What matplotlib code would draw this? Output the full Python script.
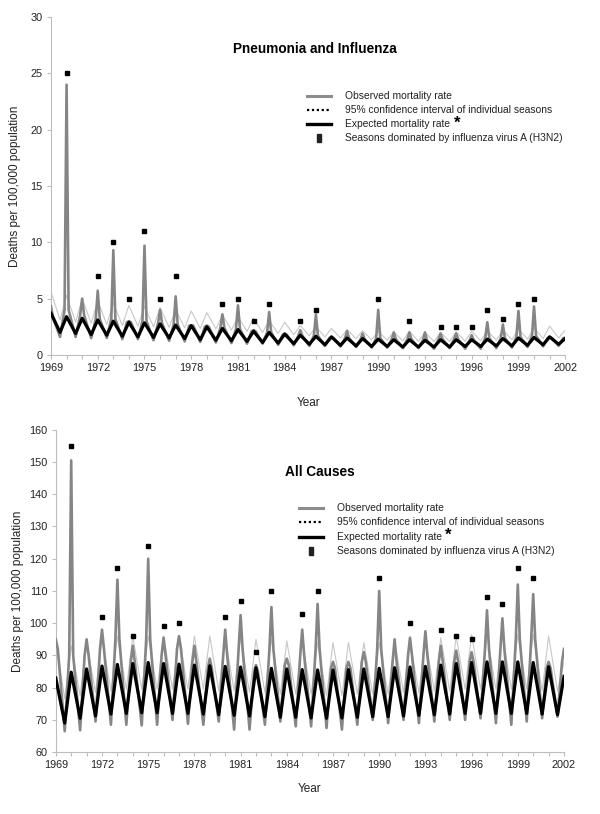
import matplotlib
matplotlib.use('Agg')
import matplotlib.pyplot as plt
from matplotlib.patches import Rectangle

plt.rcParams['font.family'] = ['Liberation Sans', 'DejaVu Sans']

# seasons: winter peak placed at the start of each year, summer trough mid-year
seasons = list(range(1969, 2003))
h3n2_seasons = [1970, 1972, 1973, 1974, 1975, 1976, 1977, 1980, 1981, 1982, 1983,
                1985, 1986, 1990, 1992, 1994, 1995, 1996, 1997, 1998, 1999, 2000]

# --- Pneumonia and influenza (deaths per 100,000) ---
pi_obs_peak = [4.3, 24.0, 5.0, 5.7, 9.3, 3.0, 9.7, 4.0, 5.2, 2.6, 2.6, 3.6, 4.4, 2.2, 3.8, 1.9, 2.2,
               3.6, 1.6, 2.1, 1.9, 4.0, 2.0, 2.0, 2.0, 1.9, 1.9, 1.75, 2.9, 2.7, 3.9, 4.3, 1.6, 1.5]
pi_obs_base = [3.3, 4.0, 3.5, 3.2, 3.2, 2.9, 3.0, 2.8, 2.7, 2.6, 2.5, 2.4, 2.3, 2.1, 2.0, 1.8, 1.7,
               1.7, 1.5, 1.5, 1.4, 1.5, 1.4, 1.4, 1.3, 1.4, 1.4, 1.3, 1.5, 1.5, 1.6, 1.7, 1.5, 1.5]
pi_obs_trough = [1.6, 1.6, 1.5, 1.5, 1.4, 1.4, 1.3, 1.25, 1.2, 1.15, 1.1, 1.05, 1.0, 1.0, 0.9, 0.85, 0.8,
                 0.8, 0.75, 0.7, 0.65, 0.65, 0.6, 0.6, 0.55, 0.6, 0.55, 0.55, 0.6, 0.65, 0.7, 0.75, 0.8]
pi_exp_peak = [3.7, 3.4, 3.25, 3.1, 3.0, 2.9, 2.85, 2.75, 2.65, 2.6, 2.5, 2.35, 2.25, 2.1, 2.0, 1.85, 1.75,
               1.65, 1.6, 1.5, 1.45, 1.4, 1.35, 1.35, 1.3, 1.35, 1.35, 1.35, 1.4, 1.45, 1.5, 1.55, 1.6, 1.45]
pi_exp_trough = [2.0, 1.9, 1.8, 1.75, 1.65, 1.6, 1.55, 1.5, 1.45, 1.35, 1.3, 1.25, 1.2, 1.1, 1.05, 1.0, 0.95,
                 0.9, 0.85, 0.8, 0.75, 0.75, 0.7, 0.7, 0.7, 0.7, 0.75, 0.75, 0.8, 0.8, 0.85, 0.9, 0.95]
pi_ci_peak = [5.6, 5.3, 5.0, 4.8, 4.6, 4.4, 4.3, 4.2, 4.0, 3.9, 3.75, 3.55, 3.4, 3.25, 3.05, 2.9, 2.6,
              2.5, 2.35, 2.25, 2.15, 2.1, 2.05, 2.1, 2.0, 2.0, 2.05, 2.1, 2.15, 2.2, 2.3, 2.4, 2.55, 2.2]
pi_ci_trough = [3.1, 2.9, 2.8, 2.7, 2.6, 2.55, 2.5, 2.45, 2.4, 2.35, 2.3, 2.2, 2.1, 2.0, 1.9, 1.8, 1.7,
                1.6, 1.5, 1.45, 1.35, 1.3, 1.25, 1.2, 1.2, 1.2, 1.2, 1.25, 1.3, 1.35, 1.4, 1.45, 1.5]
pi_h3n2_level = [25, 7, 10, 5, 11, 5, 7, 4.5, 5, 3, 4.5, 3, 4, 5, 3, 2.45, 2.45, 2.45, 4, 3.2, 4.5, 5]

# --- All causes (deaths per 100,000) ---
ac_obs_peak = [95, 150.5, 95, 98, 113.5, 93, 120, 95.5, 96, 93, 89, 98, 102.5, 87, 105, 89, 98,
               106, 88, 88, 91, 110, 95, 95.5, 97.5, 93, 91.5, 91, 104, 101.5, 112, 109, 88, 92]
ac_obs_base = [92, 90, 90, 92, 95, 88, 95, 90, 92, 88, 86, 90, 92, 85, 92, 87, 90,
               92, 86, 86, 88, 92, 88, 90, 90, 88, 88, 88, 92, 92, 95, 95, 86, 88]
ac_obs_trough = [66.5, 66.8, 69.5, 68.5, 68.5, 68.3, 68.5, 70.0, 68.8, 68.5, 69.5, 67.0, 67.0, 68.5, 69.5, 68.0, 68.0,
                 67.5, 67.0, 68.5, 70.0, 69.0, 70.0, 69.0, 69.5, 70.0, 70.0, 70.5, 69.0, 68.5, 69.5, 70.5, 71.0]
ac_exp_peak = [83.0, 84.8, 85.8, 86.7, 87.2, 87.5, 87.8, 87.5, 87.3, 87.0, 86.8, 86.6, 86.4, 86.2, 86.0, 85.8, 85.6,
               85.5, 85.5, 85.6, 85.8, 86.0, 86.2, 86.4, 86.6, 87.0, 87.5, 87.8, 88.0, 88.0, 88.0, 87.8, 86.5, 83.5]
ac_exp_trough = [69.0, 70.5, 71.2, 71.8, 72.0, 72.2, 72.2, 72.0, 72.0, 71.8, 71.6, 71.4, 71.2, 71.0, 70.8, 70.8, 70.6,
                 70.5, 70.6, 70.8, 71.0, 71.0, 71.2, 71.4, 71.6, 71.8, 72.0, 72.0, 72.0, 72.0, 72.0, 71.8, 71.6]
ac_ci_peak = [95.0, 93.0, 94.5, 95.5, 96.0, 96.0, 96.0, 96.0, 96.0, 96.0, 96.0, 95.5, 95.5, 95.0, 95.0, 94.5, 94.5,
              94.0, 94.0, 94.0, 94.0, 94.0, 94.5, 94.5, 95.0, 95.5, 96.0, 96.5, 96.5, 96.5, 96.5, 96.5, 96.0, 88.0]
ac_ci_trough = [76.5, 77.5, 78.5, 79.0, 79.5, 79.5, 79.5, 79.5, 79.5, 79.5, 79.0, 79.0, 78.5, 78.5, 78.0, 78.0, 78.0,
                77.5, 77.5, 78.0, 78.0, 78.0, 78.5, 78.5, 79.0, 79.0, 79.5, 79.5, 79.5, 79.5, 79.5, 79.0, 79.0]
ac_h3n2_level = [155, 102, 117, 96, 124, 99, 100, 102, 107, 91, 110, 103, 110, 114, 100, 98, 96, 95, 108, 106, 117, 114]

TROUGH_OFFSET = 0.58
SPIKE_HALF = 0.13


def seasonal_path(peaks, troughs):
    xs, ys = [], []
    for i, p in enumerate(peaks):
        xs.append(seasons[i])
        ys.append(p)
        if i < len(troughs):
            xs.append(seasons[i] + TROUGH_OFFSET)
            ys.append(troughs[i])
    return xs, ys


def spiky_path(peaks, bases, troughs):
    xs, ys = [], []
    for i, p in enumerate(peaks):
        s = seasons[i]
        if i > 0:
            xs.append(s - SPIKE_HALF)
            ys.append(bases[i])
        xs.append(s)
        ys.append(p)
        if i < len(troughs):
            xs += [s + SPIKE_HALF, s + TROUGH_OFFSET]
            ys += [bases[i], troughs[i]]
    return xs, ys


def style_axes(ax, ylim, ystep, xlabelpad, ylabelpad):
    ax.set_xlim(1969, 2002)
    ax.set_ylim(*ylim)
    ax.set_yticks(range(ylim[0], ylim[1] + 1, ystep))
    ax.set_xticks(range(1969, 2003, 3))
    ax.set_xticks(range(1969, 2003), minor=True)
    for side in ['top', 'right']:
        ax.spines[side].set_visible(False)
    for side in ['left', 'bottom']:
        ax.spines[side].set_color('#bdbdbd')
        ax.spines[side].set_linewidth(0.8)
    ax.tick_params(which='both', length=3, width=0.8, color='#bdbdbd',
                   labelsize=7.8, labelcolor='#222222', pad=3)
    ax.set_xlabel('Year', fontsize=8.5, labelpad=xlabelpad, color='#222222')
    ax.set_ylabel('Deaths per 100,000 population', fontsize=8.5,
                  labelpad=ylabelpad, color='#222222')


def draw_legend(ax, x0, x1, xt, rows):
    labels = ['Observed mortality rate',
              '95% confidence interval of individual seasons',
              'Expected mortality rate',
              'Seasons dominated by influenza virus A (H3N2)']
    kw = dict(transform=ax.transAxes, clip_on=False)
    ax.plot([x0, x1], [rows[0]] * 2, color='#8c8c8c', lw=2.2, **kw)
    ax.plot([x0, x1], [rows[1]] * 2, color='black', lw=1.6, ls=(0, (1, 1.2)), **kw)
    ax.plot([x0, x1], [rows[2]] * 2, color='black', lw=2.4, **kw)
    xm = (x0 + x1) / 2
    bb = ax.get_window_extent()
    w = 3.5 / bb.width
    h = 8.0 / bb.height
    ax.add_patch(Rectangle((xm - w / 2, rows[3] - h / 2), w, h, color='#222222',
                           transform=ax.transAxes, clip_on=False))
    for lab, y in zip(labels, rows):
        t = ax.text(xt, y, lab, transform=ax.transAxes, fontsize=7.4,
                    va='center', ha='left', color='#222222')
        if lab.startswith('Expected'):
            ax.annotate('*', xy=(1, 0.5), xycoords=t, xytext=(2.5, 1),
                        textcoords='offset points', fontsize=12, fontweight='bold',
                        va='center', ha='left')


def draw_panel(ax, obs, exp, ci, levels):
    x, y = seasonal_path(*ci)
    ax.plot(x, y, color='#c8c8c8', lw=0.8, zorder=2, solid_joinstyle='round')
    x, y = spiky_path(*obs)
    ax.plot(x, y, color='#858585', lw=1.9, zorder=3, solid_joinstyle='round')
    x, y = seasonal_path(*exp)
    ax.plot(x, y, color='black', lw=2.3, zorder=4, solid_joinstyle='round')
    ax.plot(h3n2_seasons, levels, ls='none', marker='s', ms=3.2,
            color='black', zorder=5, clip_on=False)


fig = plt.figure(figsize=(6, 8.14), dpi=100)
ax1 = fig.add_axes([0.085, 0.564, 0.857, 0.415])
ax2 = fig.add_axes([0.093, 0.076, 0.847, 0.396])

draw_panel(ax1, (pi_obs_peak, pi_obs_base, pi_obs_trough), (pi_exp_peak, pi_exp_trough),
           (pi_ci_peak, pi_ci_trough), pi_h3n2_level)
style_axes(ax1, (0, 30), 5, 17, 7)
ax1.text(0.514, 0.905, 'Pneumonia and Influenza', transform=ax1.transAxes,
         ha='center', va='center', fontsize=9.8, fontweight='bold')
draw_legend(ax1, 0.498, 0.545, 0.572, [0.766, 0.725, 0.683, 0.642])

draw_panel(ax2, (ac_obs_peak, ac_obs_base, ac_obs_trough), (ac_exp_peak, ac_exp_trough),
           (ac_ci_peak, ac_ci_trough), ac_h3n2_level)
style_axes(ax2, (60, 160), 10, 9, 4)
ax2.text(0.520, 0.870, 'All Causes', transform=ax2.transAxes,
         ha='center', va='center', fontsize=9.8, fontweight='bold')
draw_legend(ax2, 0.478, 0.526, 0.553, [0.758, 0.714, 0.668, 0.624])

fig.savefig('out.png', dpi=100)
